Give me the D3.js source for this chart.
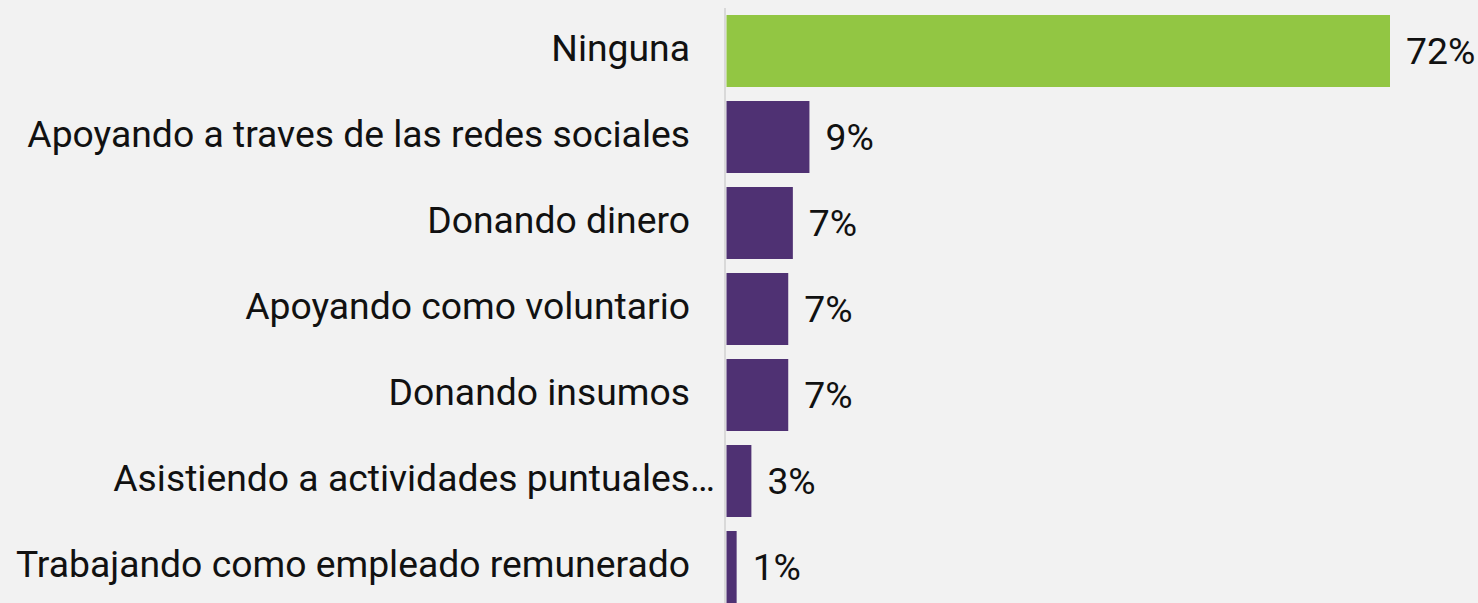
<!DOCTYPE html>
<html>
<head>
<meta charset="utf-8">
<script src="https://cdn.jsdelivr.net/npm/d3@7"></script>
<style>
html,body{margin:0;padding:0;background:#f2f2f2;}
svg{display:block;font-family:Roboto, "Noto Sans", sans-serif;}
</style>
</head>
<body>
<svg id="chart" width="1478" height="603"></svg>
<script>
const categories = [
  "Ninguna",
  "Apoyando a traves de las redes sociales",
  "Donando dinero",
  "Apoyando como voluntario",
  "Donando insumos",
  "Asistiendo a actividades puntuales…",
  "Trabajando como empleado remunerado"
];
const values = [72, 9, 7.2, 6.7, 6.7, 2.7, 1.1];
const valueLabels = ["72%", "9%", "7%", "7%", "7%", "3%", "1%"];
const highlight = [true, false, false, false, false, false, false];

const svg = d3.select("#chart");
const W = 1478, H = 603;
const FS = 37.3;
svg.append("rect").attr("width", W).attr("height", H).attr("fill", "#f2f2f2");

const x = d3.scaleLinear().domain([0, 72]).range([726.5, 1390]);
const y = d3.scaleBand().domain(categories).range([8, 610]).paddingInner(14/86).paddingOuter(7/86);

// axis line
svg.append("line")
  .attr("x1", 725).attr("x2", 725)
  .attr("y1", 8).attr("y2", H)
  .attr("stroke", "#d9d9d9").attr("stroke-width", 2);

const data = categories.map((c, i) => ({c, v: values[i], l: valueLabels[i], h: highlight[i]}));

svg.selectAll("rect.bar").data(data).join("rect")
  .attr("class", "bar")
  .attr("x", x(0))
  .attr("y", d => y(d.c))
  .attr("width", d => x(d.v) - x(0))
  .attr("height", y.bandwidth())
  .attr("fill", d => d.h ? "#92c643" : "#4f3173");

// category labels: the ellipsis of truncated labels hangs past the text edge
const cat = svg.selectAll("g.cat").data(data).join("g").attr("class", "cat");
cat.append("text")
  .attr("x", 690)
  .attr("y", d => y(d.c) + y.bandwidth()/2 + 10)
  .attr("text-anchor", "end")
  .attr("font-size", FS)
  .attr("fill", "#111")
  .text(d => d.c.replace(/…$/, ""));
cat.filter(d => /…$/.test(d.c)).append("text")
  .attr("x", 690)
  .attr("y", d => y(d.c) + y.bandwidth()/2 + 10)
  .attr("text-anchor", "start")
  .attr("font-size", FS)
  .attr("fill", "#111")
  .text("…");

svg.selectAll("text.val").data(data).join("text")
  .attr("class", "val")
  .attr("x", d => x(d.v) + 16)
  .attr("y", d => y(d.c) + y.bandwidth()/2 + 12.5)
  .attr("font-size", FS)
  .attr("fill", "#111")
  .text(d => d.l);
</script>
</body>
</html>
